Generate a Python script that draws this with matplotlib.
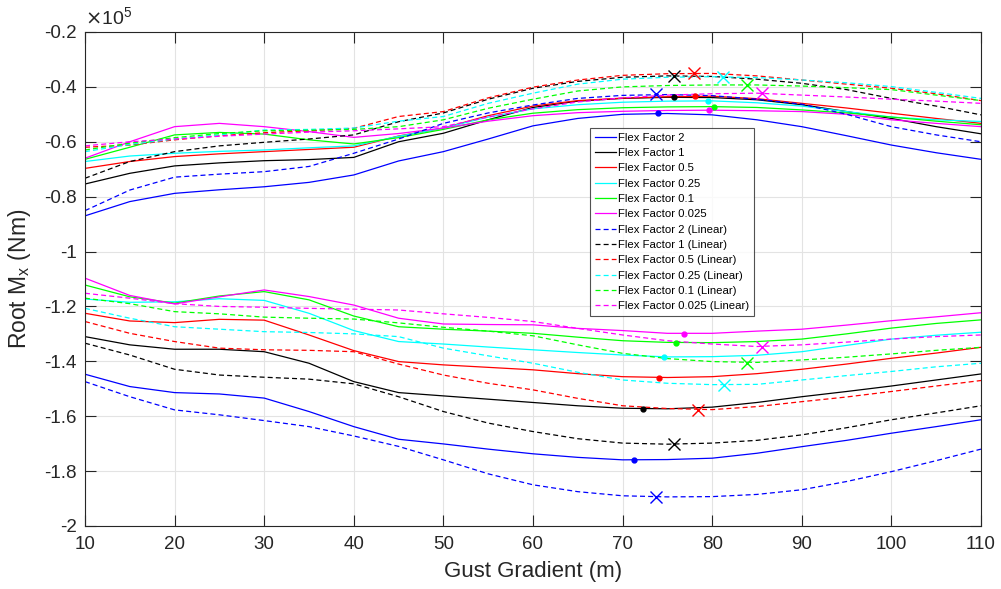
import numpy as np
import matplotlib
matplotlib.use("Agg")
import matplotlib.pyplot as plt

plt.rcParams['font.family'] = ['Liberation Sans', 'DejaVu Sans']

# gust gradient (m)
gust = [10, 15, 20, 25, 30, 35, 40, 45, 50, 55, 60, 65, 70, 75, 80, 85, 90, 95, 100, 105, 110]

labels = ['Flex Factor 2', 'Flex Factor 1', 'Flex Factor 0.5',
          'Flex Factor 0.25', 'Flex Factor 0.1', 'Flex Factor 0.025']
colors = ['#0000ff', '#000000', '#ff0000', '#00ffff', '#00ff00', '#ff00ff']

# root Mx, in units of 1e5 Nm -- max envelope (upper branch)
max_ff2 = [-0.870, -0.818, -0.788, -0.775, -0.764, -0.748, -0.721, -0.670, -0.636, -0.590, -0.542,
           -0.515, -0.500, -0.497, -0.502, -0.520, -0.545, -0.578, -0.612, -0.640, -0.664]
max_ff1 = [-0.754, -0.715, -0.688, -0.677, -0.669, -0.665, -0.657, -0.600, -0.569, -0.520, -0.475,
           -0.452, -0.442, -0.438, -0.439, -0.447, -0.465, -0.490, -0.515, -0.545, -0.571]
max_ff05 = [-0.697, -0.672, -0.654, -0.644, -0.636, -0.628, -0.620, -0.579, -0.550, -0.505, -0.470,
            -0.450, -0.441, -0.436, -0.434, -0.443, -0.460, -0.477, -0.496, -0.515, -0.533]
max_ff025 = [-0.672, -0.652, -0.642, -0.635, -0.630, -0.622, -0.615, -0.580, -0.550, -0.510, -0.480,
             -0.465, -0.456, -0.452, -0.451, -0.458, -0.470, -0.490, -0.510, -0.520, -0.526]
max_ff01 = [-0.664, -0.620, -0.575, -0.566, -0.572, -0.593, -0.608, -0.585, -0.555, -0.520, -0.496,
            -0.483, -0.476, -0.473, -0.472, -0.475, -0.484, -0.495, -0.510, -0.525, -0.538]
max_ff0025 = [-0.660, -0.600, -0.545, -0.533, -0.545, -0.563, -0.584, -0.570, -0.550, -0.525, -0.505,
              -0.494, -0.489, -0.486, -0.485, -0.487, -0.490, -0.500, -0.520, -0.533, -0.545]

max_ff2_lin = [-0.851, -0.776, -0.729, -0.718, -0.709, -0.690, -0.642, -0.590, -0.533, -0.495, -0.466,
               -0.442, -0.431, -0.428, -0.432, -0.445, -0.463, -0.500, -0.545, -0.575, -0.600]
max_ff1_lin = [-0.733, -0.672, -0.636, -0.615, -0.602, -0.590, -0.575, -0.527, -0.495, -0.445, -0.405,
               -0.380, -0.365, -0.360, -0.362, -0.372, -0.387, -0.410, -0.442, -0.470, -0.502]
max_ff05_lin = [-0.620, -0.612, -0.593, -0.578, -0.567, -0.560, -0.551, -0.508, -0.490, -0.440, -0.401,
                -0.375, -0.358, -0.352, -0.351, -0.360, -0.375, -0.390, -0.405, -0.425, -0.450]
max_ff025_lin = [-0.636, -0.610, -0.590, -0.575, -0.557, -0.555, -0.550, -0.525, -0.508, -0.460, -0.423,
                 -0.390, -0.372, -0.365, -0.363, -0.366, -0.375, -0.385, -0.399, -0.420, -0.442]
max_ff01_lin = [-0.630, -0.605, -0.585, -0.570, -0.560, -0.558, -0.555, -0.545, -0.520, -0.478, -0.445,
                -0.415, -0.400, -0.395, -0.393, -0.393, -0.397, -0.403, -0.410, -0.430, -0.450]
max_ff0025_lin = [-0.615, -0.600, -0.590, -0.580, -0.572, -0.565, -0.560, -0.553, -0.545, -0.510, -0.480,
                  -0.455, -0.440, -0.430, -0.425, -0.423, -0.430, -0.437, -0.445, -0.452, -0.460]

# min envelope (lower branch)
min_ff2 = [-1.447, -1.492, -1.514, -1.519, -1.534, -1.583, -1.638, -1.684, -1.701, -1.720, -1.737,
           -1.750, -1.759, -1.758, -1.753, -1.735, -1.711, -1.688, -1.662, -1.638, -1.613]
min_ff1 = [-1.310, -1.340, -1.356, -1.356, -1.365, -1.407, -1.474, -1.514, -1.526, -1.538, -1.550,
           -1.562, -1.571, -1.573, -1.567, -1.550, -1.529, -1.510, -1.490, -1.468, -1.446]
min_ff05 = [-1.225, -1.253, -1.259, -1.247, -1.250, -1.304, -1.361, -1.401, -1.413, -1.422, -1.431,
            -1.445, -1.456, -1.459, -1.456, -1.445, -1.429, -1.410, -1.389, -1.370, -1.349]
min_ff025 = [-1.173, -1.185, -1.183, -1.172, -1.178, -1.225, -1.288, -1.328, -1.337, -1.348, -1.358,
             -1.368, -1.377, -1.384, -1.383, -1.378, -1.365, -1.342, -1.319, -1.305, -1.294]
min_ff01 = [-1.122, -1.165, -1.188, -1.162, -1.146, -1.176, -1.235, -1.274, -1.283, -1.290, -1.298,
            -1.312, -1.325, -1.331, -1.332, -1.328, -1.319, -1.300, -1.279, -1.262, -1.249]
min_ff0025 = [-1.097, -1.160, -1.191, -1.165, -1.140, -1.164, -1.195, -1.243, -1.264, -1.266, -1.267,
              -1.280, -1.288, -1.298, -1.298, -1.290, -1.283, -1.268, -1.252, -1.238, -1.223]

min_ff2_lin = [-1.474, -1.529, -1.577, -1.595, -1.616, -1.638, -1.672, -1.710, -1.759, -1.810, -1.850,
               -1.875, -1.890, -1.894, -1.893, -1.885, -1.868, -1.838, -1.802, -1.762, -1.720]
min_ff1_lin = [-1.334, -1.377, -1.429, -1.450, -1.458, -1.465, -1.482, -1.529, -1.583, -1.625, -1.656,
               -1.682, -1.698, -1.702, -1.698, -1.688, -1.668, -1.642, -1.613, -1.588, -1.562]
min_ff05_lin = [-1.255, -1.298, -1.328, -1.352, -1.358, -1.360, -1.365, -1.410, -1.450, -1.480, -1.504,
                -1.535, -1.562, -1.572, -1.576, -1.565, -1.547, -1.530, -1.510, -1.490, -1.470]
min_ff025_lin = [-1.207, -1.243, -1.274, -1.283, -1.292, -1.295, -1.300, -1.310, -1.352, -1.380, -1.407,
                 -1.440, -1.468, -1.480, -1.485, -1.484, -1.468, -1.452, -1.437, -1.420, -1.407]
min_ff01_lin = [-1.170, -1.190, -1.219, -1.227, -1.239, -1.243, -1.246, -1.260, -1.276, -1.290, -1.307,
                -1.340, -1.371, -1.390, -1.401, -1.404, -1.395, -1.385, -1.373, -1.360, -1.349]
min_ff0025_lin = [-1.152, -1.170, -1.190, -1.200, -1.203, -1.207, -1.210, -1.213, -1.227, -1.240, -1.255,
                  -1.280, -1.304, -1.325, -1.337, -1.346, -1.340, -1.330, -1.319, -1.310, -1.304]

# worst-case points: dots for nonlinear runs, crosses for linear runs
peak_x = [73.9, 75.7, 78.1, 79.5, 80.2, 79.6]
peak_y = [-0.496, -0.438, -0.433, -0.451, -0.472, -0.485]
peak_x_lin = [73.7, 75.7, 78.0, 81.2, 83.9, 85.6]
peak_y_lin = [-0.427, -0.360, -0.350, -0.363, -0.393, -0.423]
trough_x = [71.3, 72.3, 74.1, 74.6, 76.0, 76.9]
trough_y = [-1.760, -1.574, -1.460, -1.385, -1.332, -1.300]
trough_x_lin = [73.7, 75.7, 78.4, 81.3, 83.9, 85.6]
trough_y_lin = [-1.895, -1.702, -1.577, -1.486, -1.405, -1.347]

max_nl = [max_ff2, max_ff1, max_ff05, max_ff025, max_ff01, max_ff0025]
max_lin = [max_ff2_lin, max_ff1_lin, max_ff05_lin, max_ff025_lin, max_ff01_lin, max_ff0025_lin]
min_nl = [min_ff2, min_ff1, min_ff05, min_ff025, min_ff01, min_ff0025]
min_lin = [min_ff2_lin, min_ff1_lin, min_ff05_lin, min_ff025_lin, min_ff01_lin, min_ff0025_lin]

fig = plt.figure(figsize=(10.01, 5.89), dpi=100)
ax = fig.add_axes([0.0849, 0.107, 0.8951, 0.8387])

lw = 0.9
handles = []
for i, c in enumerate(colors):
    h, = ax.plot(gust, max_nl[i], '-', color=c, lw=lw, label=labels[i])
    ax.plot(gust, min_nl[i], '-', color=c, lw=lw)
    handles.append(h)
for i, c in enumerate(colors):
    h, = ax.plot(gust, max_lin[i], '--', color=c, lw=lw, dashes=(4, 2.5),
                 label=labels[i] + ' (Linear)')
    ax.plot(gust, min_lin[i], '--', color=c, lw=lw, dashes=(4, 2.5))
    handles.append(h)

for i, c in enumerate(colors):
    ax.plot(peak_x[i], peak_y[i], '.', color=c, ms=7)
    ax.plot(trough_x[i], trough_y[i], '.', color=c, ms=7)
    ax.plot(peak_x_lin[i], peak_y_lin[i], 'x', color=c, ms=8, mew=1.0)
    ax.plot(trough_x_lin[i], trough_y_lin[i], 'x', color=c, ms=8, mew=1.0)

ax.set_xlim(10, 110)
ax.set_ylim(-2, -0.2)
xt = np.arange(10, 111, 10)
yt = np.round(np.arange(-2, -0.19, 0.2), 1)
ax.set_xticks(xt)
ax.set_yticks(yt)
ax.set_xticklabels([f'{v:g}' for v in xt])
ax.set_yticklabels([f'{v:g}' for v in yt])
ax.grid(True, color='#e3e3e3', lw=0.8)
ax.set_axisbelow(True)
ax.tick_params(direction='in', length=8, width=0.8, colors='#262626',
               labelsize=13.5, top=True, right=True)
ax.tick_params(axis='y', pad=6)
ax.tick_params(axis='x', pad=7)
for s in ax.spines.values():
    s.set_color('#262626')
    s.set_linewidth(0.8)

ax.set_xlabel('Gust Gradient (m)', fontsize=16, color='#262626')
ax.set_ylabel('Root M$_\\mathregular{x}$ (Nm)', fontsize=16.5, color='#262626')
ax.xaxis.set_label_coords(0.5, -0.07)
ax.yaxis.set_label_coords(-0.058, 0.5)
ax.text(0.0, 1.008, '$\\times\\mathregular{10^5}$', transform=ax.transAxes,
        fontsize=14, color='#262626', ha='left', va='bottom')

leg = ax.legend(handles=handles, loc='upper left', bbox_to_anchor=(0.5636, 0.8057),
                fontsize=8.2, frameon=True, fancybox=False, edgecolor='#262626',
                handlelength=1.9, handletextpad=0.2, labelspacing=0.47,
                borderpad=0.4, borderaxespad=0)
leg.get_frame().set_linewidth(0.8)

plt.savefig('out.png', dpi=100)
